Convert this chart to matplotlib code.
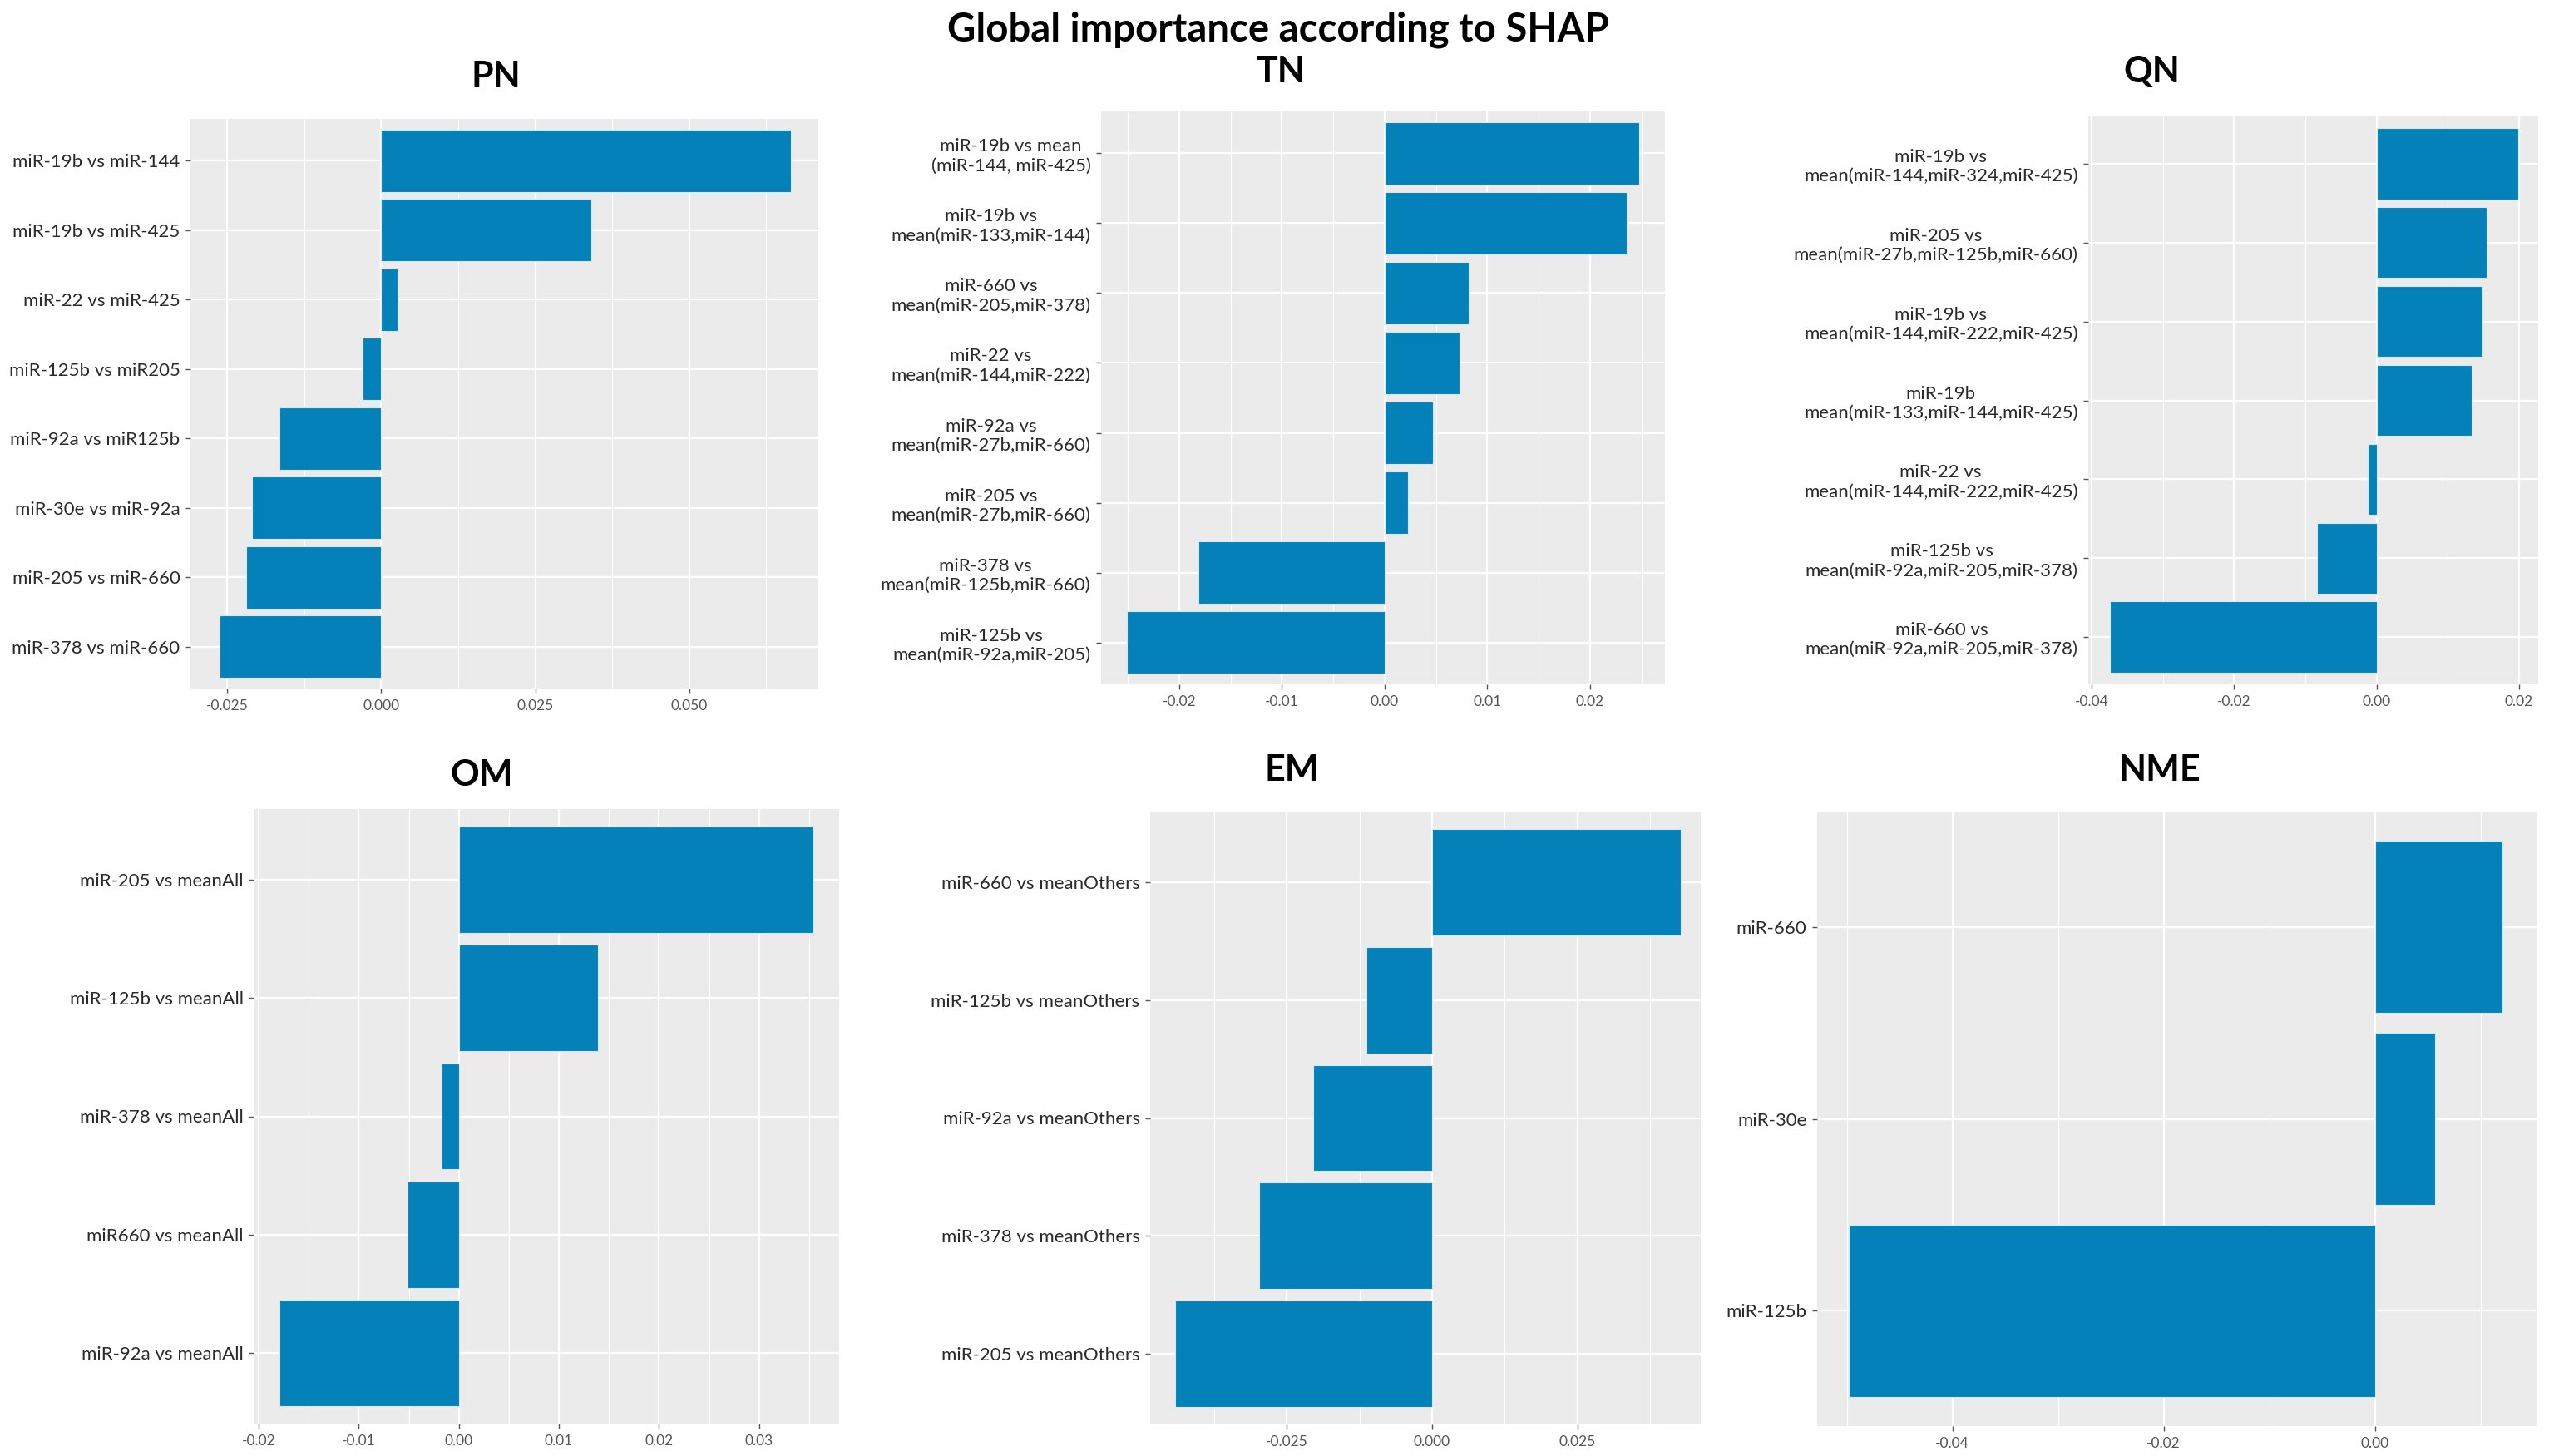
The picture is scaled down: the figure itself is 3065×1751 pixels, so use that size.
import matplotlib
matplotlib.use("Agg")
import matplotlib.pyplot as plt

plt.rcParams['font.family'] = ['Lato', 'DejaVu Sans']

# valores (ordem de cima para baixo)
pn_labels = ["miR-19b vs miR-144", "miR-19b vs miR-425", "miR-22 vs miR-425",
             "miR-125b vs miR205", "miR-92a vs miR125b", "miR-30e vs miR-92a",
             "miR-205 vs miR-660", "miR-378 vs miR-660"]
pn_values = [0.0665, 0.0341, 0.0026, -0.0030, -0.0165, -0.0210, -0.0220, -0.0263]

tn_labels = ["miR-19b vs mean\n(miR-144, miR-425)", "miR-19b vs\nmean(miR-133,miR-144)",
             "miR-660 vs\nmean(miR-205,miR-378)", "miR-22 vs\nmean(miR-144,miR-222)",
             "miR-92a vs\nmean(miR-27b,miR-660)", "miR-205 vs\nmean(miR-27b,miR-660)",
             "miR-378 vs\nmean(miR-125b,miR-660)", "miR-125b vs\nmean(miR-92a,miR-205)"]
tn_values = [0.0248, 0.0236, 0.0082, 0.0073, 0.0047, 0.0023, -0.0181, -0.0251]

qn_labels = ["miR-19b vs\nmean(miR-144,miR-324,miR-425)",
             "miR-205 vs\nmean(miR-27b,miR-125b,miR-660)",
             "miR-19b vs\nmean(miR-144,miR-222,miR-425)",
             "miR-19b\nmean(miR-133,miR-144,miR-425)",
             "miR-22 vs\nmean(miR-144,miR-222,miR-425)",
             "miR-125b vs\nmean(miR-92a,miR-205,miR-378)",
             "miR-660 vs\nmean(miR-92a,miR-205,miR-378)"]
qn_values = [0.0199, 0.0154, 0.0149, 0.0133, -0.0013, -0.0084, -0.0375]

om_labels = ["miR-205 vs meanAll", "miR-125b vs meanAll", "miR-378 vs meanAll",
             "miR660 vs meanAll", "miR-92a vs meanAll"]
om_values = [0.0354, 0.0139, -0.0017, -0.0051, -0.0179]

em_labels = ["miR-660 vs meanOthers", "miR-125b vs meanOthers", "miR-92a vs meanOthers",
             "miR-378 vs meanOthers", "miR-205 vs meanOthers"]
em_values = [0.0427, -0.0113, -0.0204, -0.0298, -0.0442]

nme_labels = ["miR-660", "miR-30e", "miR-125b"]
nme_values = [0.0121, 0.0057, -0.0498]

W, H = 3065, 1751
fig = plt.figure(figsize=(W / 100, H / 100), dpi=100)
fig.patch.set_facecolor("white")

BAR = "#0381B8"


def painel(box, titulo, tpos, labels, values, xlim, major, minor, xtl):
    x0, y0, x1, y1 = box
    ax = fig.add_axes([x0 / W, 1 - y1 / H, (x1 - x0) / W, (y1 - y0) / H])
    ax.set_facecolor("#EBEBEB")
    n = len(labels)
    ys = [n - i for i in range(n)]
    ax.barh(ys, values, height=0.9, color=BAR, edgecolor="#d4eaf5", linewidth=0.8, zorder=3)
    ax.set_xlim(*xlim)
    ax.set_ylim(0.4, n + 0.6)
    ax.set_yticks(ys)
    ax.set_yticklabels(labels, fontsize=16, color="#2b2b2b", multialignment="center")
    ax.set_xticks(major)
    ax.set_xticklabels(xtl, fontsize=12.5, color="#555555")
    ax.set_xticks(minor, minor=True)
    ax.grid(which="major", color="white", linewidth=1.6, zorder=0)
    ax.grid(which="minor", axis="x", color="white", linewidth=0.8, zorder=0)
    ax.tick_params(which="major", length=4, width=1, color="#555555", pad=5)
    ax.tick_params(which="minor", length=0)
    for s in ax.spines.values():
        s.set_visible(False)
    fig.text(tpos[0] / W, 1 - tpos[1] / H, titulo, fontsize=31, fontweight="bold",
             ha="center", va="center")
    return ax


painel((229, 143, 984, 828), "PN", (596, 92), pn_labels, pn_values,
       (-0.0310, 0.0710), [-0.025, 0.0, 0.025, 0.05], [-0.0125, 0.0125, 0.0375, 0.0625],
       ["-0.025", "0.000", "0.025", "0.050"])

painel((1324, 134, 2002, 823), "TN", (1540, 86), tn_labels, tn_values,
       (-0.0276, 0.0273), [-0.02, -0.01, 0.0, 0.01, 0.02], [-0.025, -0.015, -0.005, 0.005, 0.015, 0.025],
       ["-0.02", "-0.01", "0.00", "0.01", "0.02"])

painel((2511, 140, 3052, 823), "QN", (2587, 86), qn_labels, qn_values,
       (-0.0405, 0.0227), [-0.04, -0.02, 0.0, 0.02], [-0.03, -0.01, 0.01],
       ["-0.04", "-0.02", "0.00", "0.02"])

painel((305, 973, 1009, 1712), "OM", (579, 932), om_labels, om_values,
       (-0.0205, 0.0380), [-0.02, -0.01, 0.0, 0.01, 0.02, 0.03],
       [-0.015, -0.005, 0.005, 0.015, 0.025, 0.035],
       ["-0.02", "-0.01", "0.00", "0.01", "0.02", "0.03"])

painel((1383, 976, 2045, 1713), "EM", (1553, 926), em_labels, em_values,
       (-0.0485, 0.0462), [-0.025, 0.0, 0.025], [-0.0375, -0.0125, 0.0125, 0.0375],
       ["-0.025", "0.000", "0.025"])

painel((2185, 976, 3050, 1715), "NME", (2597, 926), nme_labels, nme_values,
       (-0.0528, 0.0153), [-0.04, -0.02, 0.0], [-0.05, -0.03, -0.01, 0.01],
       ["-0.04", "-0.02", "0.00"])

fig.text(1537 / W, 1 - 36 / H, "Global importance according to SHAP",
         fontsize=34, fontweight="bold", ha="center", va="center")

fig.savefig("out.png", dpi=100)
